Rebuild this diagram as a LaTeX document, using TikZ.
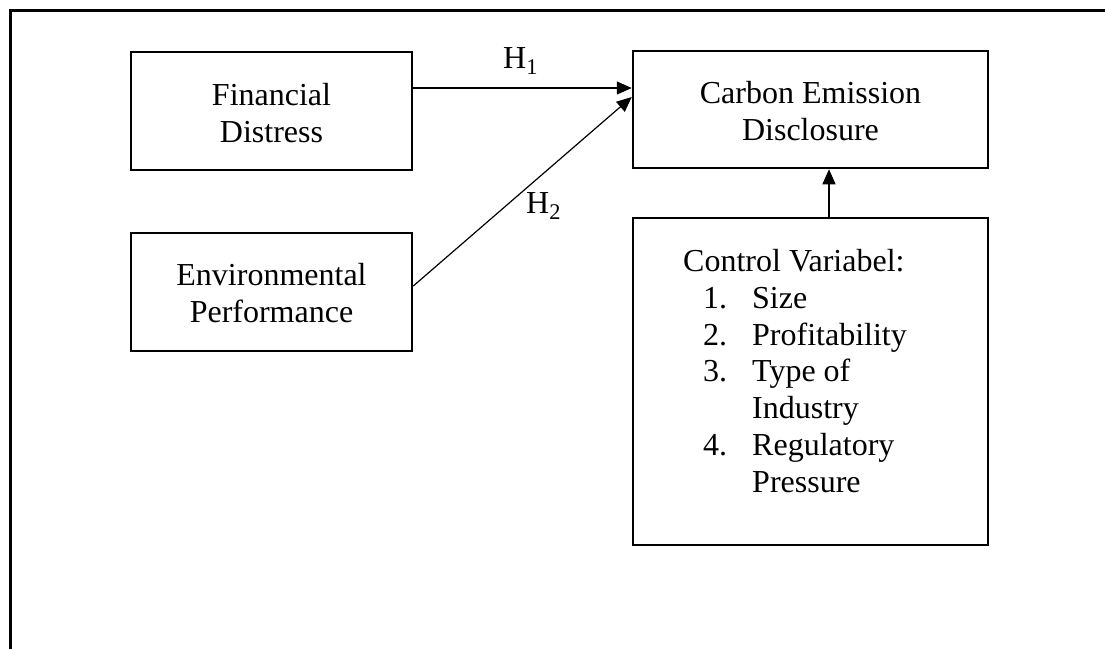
\documentclass[tikz,border=0pt]{standalone}
\usepackage{fontspec}
\setmainfont{Liberation Serif}
\usetikzlibrary{arrows.meta}
\begin{document}
\begin{tikzpicture}[x=1pt,y=-1pt,
  box/.style={draw,line width=2.5pt,minimum width=#1,inner sep=0pt},
  txt/.style={font=\fontsize{32}{36.7}\selectfont,align=center,inner sep=0pt},
  conn/.style={line width=1.2pt,-{Triangle[length=15pt,width=13pt]}},
  hyp/.style={font=\fontsize{32}{36.7}\selectfont,inner sep=0pt,anchor=base west}]
\useasboundingbox (0,0) rectangle (1105,649);
% frame
\draw[line width=3pt] (10,649) -- (10,10) -- (1105,10);
% boxes
\node[box=281pt,minimum height=118pt] (fd) at (271.5,111) {};
\node[box=281pt,minimum height=118pt] (ep) at (271.5,292) {};
\node[box=355pt,minimum height=117pt] (ced) at (810.5,109.5) {};
\node[box=355pt,minimum height=327pt] (cv) at (810.5,381.5) {};
% texts (base anchor = baseline of the last line)
\node[txt,anchor=base] (fdt) at (271.5,142) {Financial\\Distress};
\node[txt,anchor=base] (ept) at (271.5,322) {Environmental\\Performance};
\node[txt,anchor=base] (cedt) at (810.5,140) {Carbon Emission\\Disclosure};
\node[txt,align=left,anchor=base west] (cvt) at (683,492) {Control Variabel:\\
\hspace*{20pt}\makebox[49pt][l]{1.}Size\\
\hspace*{20pt}\makebox[49pt][l]{2.}Profitability\\
\hspace*{20pt}\makebox[49pt][l]{3.}Type of\\
\hspace*{20pt}\makebox[49pt][l]{}Industry\\
\hspace*{20pt}\makebox[49pt][l]{4.}Regulatory\\
\hspace*{20pt}\makebox[49pt][l]{}Pressure};
% connectors
\draw[conn] ([yshift=23pt]fd.east) -- ([yshift=23pt]fd.east -| ced.west);
\draw[conn] ([yshift=6pt]ep.east) -- ([yshift=12.5pt]ced.west);
\draw[conn] ([xshift=18.5pt]cv.north) -- ([xshift=18.5pt]ced.south);
% labels
\node[hyp] (h1) at (503,68) {H\textsubscript{1}};
\node[hyp] (h2) at (526,213) {H\textsubscript{2}};
\end{tikzpicture}
\end{document}
